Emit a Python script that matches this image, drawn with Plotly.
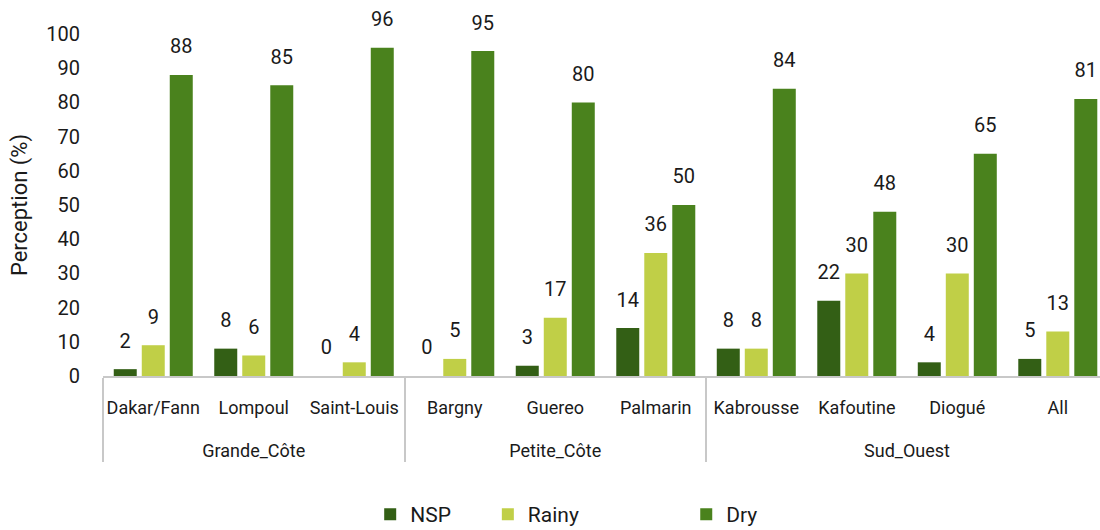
import plotly.graph_objects as go

regions = ["Grande_Côte"] * 3 + ["Petite_Côte"] * 3 + ["Sud_Ouest"] * 4
sites = ["Dakar/Fann", "Lompoul", "Saint-Louis", "Bargny", "Guereo", "Palmarin",
         "Kabrousse", "Kafoutine", "Diogué", "All"]
nsp = [2, 8, 0, 0, 3, 14, 8, 22, 4, 5]
rainy = [9, 6, 4, 5, 17, 36, 8, 30, 30, 13]
dry = [88, 85, 96, 95, 80, 50, 84, 48, 65, 81]

series = [("NSP", nsp, "#335F15", "legend"),
          ("Rainy", rainy, "#C0CF47", "legend2"),
          ("Dry", dry, "#4A821D", "legend3")]

FONT = "Roboto"
INK = "#1a1a1a"
W, H = 1100, 530
L, T = 103, 34
PLOT_H = 342

LBL = "<span style='font-size:18px'>{}</span>"
# trailing blank line (at the root tick size) pads the site labels so the region row sits lower
site_labels = [LBL.format(s) + "<br> " for s in sites]
region_labels = [LBL.format(r) for r in regions]

fig = go.Figure()
for name, vals, color, lg in series:
    fig.add_trace(go.Bar(
        x=[region_labels, site_labels], y=vals, name=name,
        marker=dict(color=color, line=dict(width=0)),
        texttemplate="<span style='font-size:20px'>%{y}</span><br> ",
        textposition="outside",
        textfont=dict(size=12, color=INK, family=FONT),
        constraintext="none", cliponaxis=False, legend=lg,
    ))

leg_common = dict(orientation="h", xanchor="left", yanchor="middle", y=-0.405,
                  font=dict(size=21, color=INK, family=FONT),
                  bgcolor="rgba(0,0,0,0)")
fig.update_layout(
    width=W, height=H,
    margin=dict(l=L, r=0, t=T, b=H - T - PLOT_H, autoexpand=False),
    paper_bgcolor="white", plot_bgcolor="white",
    barmode="group", bargap=0.164, bargroupgap=0.179,
    font=dict(family=FONT, color=INK),
    showlegend=True,
    legend=dict(x=0.268, **leg_common),
    legend2=dict(x=0.386, **leg_common),
    legend3=dict(x=0.585, **leg_common),
    xaxis=dict(type="multicategory", range=[-0.5, 9.42],
               showline=True, linecolor="#c8c8c8", linewidth=2,
               tickfont=dict(size=22, family=FONT, color=INK), tickangle=0,
               ticklabelstandoff=10, automargin=False,
               dividercolor="#c8c8c8", dividerwidth=1.5, showgrid=False),
    yaxis=dict(range=[0, 100], dtick=10, showgrid=False, showline=False, zeroline=False,
               tickfont=dict(size=20, family=FONT, color=INK),
               ticklabelstandoff=22, automargin=False,
               title=dict(text="Perception (%)", font=dict(size=22, family=FONT, color=INK),
                          standoff=12)),
)
# remove the page's default body margin so the figure fills the window exactly
fig.write_html("out.html", config={"displayModeBar": False},
               post_script="document.body.style.margin='0';")
